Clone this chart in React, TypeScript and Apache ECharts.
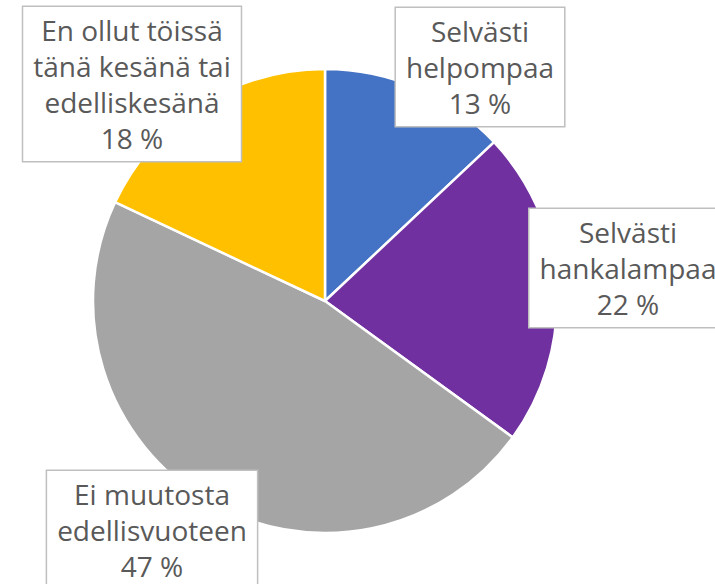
import React, { useEffect, useRef } from "react";
import * as echarts from "echarts";

const categories = [
  "Selvästi\nhelpompaa",
  "Selvästi\nhankalampaa",
  "Ei muutosta\nedellisvuoteen",
  "En ollut töissä\ntänä kesänä tai\nedelliskesänä",
];
const values = [13, 22, 47, 18];
const colors = ["#4472C4", "#7030A0", "#A5A5A5", "#FFC000"];
const labelCenters = [
  [480, 67],
  [628, 268],
  [152, 530],
  [132, 84],
];

export default function App() {
  const ref = useRef<HTMLDivElement>(null);
  useEffect(() => {
    if (!ref.current) return;
    const chart = echarts.init(ref.current, undefined, { renderer: "svg" });
    chart.setOption({
      animation: false,
      backgroundColor: "#ffffff",
      series: [
        {
          type: "pie",
          center: [325, 301],
          radius: 232,
          startAngle: 90,
          clockwise: true,
          avoidLabelOverlap: false,
          itemStyle: { borderColor: "#ffffff", borderWidth: 2.5 },
          labelLine: { show: false },
          label: {
            show: true,
            formatter: (p: any) => `${p.name}\n${p.value} %`,
            fontFamily: "Open Sans",
            fontSize: 28,
            lineHeight: 36,
            color: "#595959",
            align: "center",
            backgroundColor: "#ffffff",
            borderColor: "#BFBFBF",
            borderWidth: 1.5,
            padding: [5, 10, 5, 10],
          },
          labelLayout: (params: any) => ({
            x: labelCenters[params.dataIndex][0],
            y: labelCenters[params.dataIndex][1],
            align: "center",
            verticalAlign: "middle",
            hideOverlap: false,
          }),
          data: values.map((v, i) => ({
            name: categories[i],
            value: v,
            itemStyle: { color: colors[i] },
          })),
        },
      ],
    });
    return () => chart.dispose();
  }, []);
  return (
    <div
      ref={ref}
      style={{ position: "fixed", left: 0, top: 0, width: 715, height: 584 }}
    />
  );
}
